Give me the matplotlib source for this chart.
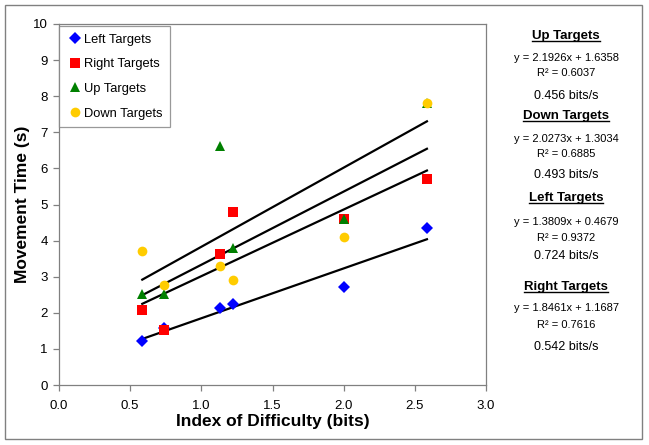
import numpy as np
import matplotlib.pyplot as plt
from matplotlib.patches import Rectangle
from matplotlib.lines import Line2D

plt.rcParams['font.family'] = ['Liberation Sans', 'DejaVu Sans']

# index of difficulty (bits)
ids = [0.585, 0.737, 1.134, 1.22, 2.0, 2.585]

left_mt = [1.23, 1.58, 2.12, 2.25, 2.72, 4.36]
right_mt = [2.07, 1.53, 3.63, 4.79, 4.59, 5.70]
up_mt = [2.52, 2.52, 6.62, 3.80, 4.60, 7.80]
down_mt = [3.71, 2.76, 3.30, 2.91, 4.11, 7.82]

series_names = ['Left Targets', 'Right Targets', 'Up Targets', 'Down Targets']
series_values = [left_mt, right_mt, up_mt, down_mt]
colors = ['#0000FF', '#FF0000', '#008000', '#FFCC00']
markers = ['D', 's', '^', 'o']
msizes = [6, 7, 7.5, 7]

# fitted trend lines (slope, intercept)
slopes = [1.3809, 1.8461, 2.1926, 2.0273]
intercepts = [0.4679, 1.1687, 1.6358, 1.3034]

# right-hand annotation panel
panel_titles = ['Up Targets', 'Down Targets', 'Left Targets', 'Right Targets']
panel_eqs = ['y = 2.1926x + 1.6358', 'y = 2.0273x + 1.3034',
             'y = 1.3809x + 0.4679', 'y = 1.8461x + 1.1687']
panel_r2 = ['0.6037', '0.6885', '0.9372', '0.7616']
panel_tp = ['0.456 bits/s', '0.493 bits/s', '0.724 bits/s', '0.542 bits/s']
panel_ypix = [(36, 58, 73, 96), (116, 139, 154, 175),
              (198, 222, 238, 256), (287, 308, 325, 347)]

W, H = 649, 445
fig = plt.figure(figsize=(W / 100, H / 100), dpi=100)
ax = fig.add_axes([59 / W, 1 - 385 / H, (486 - 59) / W, (385 - 24) / H])

gray = '#808080'
for s in ax.spines.values():
    s.set_color(gray)
    s.set_linewidth(0.9)

xfit = np.array([min(ids), max(ids)])
for m, b in zip(slopes, intercepts):
    ax.plot(xfit, m * xfit + b, color='black', lw=1.6, zorder=2)

for name, vals, c, mk, ms in zip(series_names, series_values, colors, markers, msizes):
    ax.plot(ids, vals, linestyle='none', marker=mk, color=c, markersize=ms,
            markeredgewidth=0, label=name, zorder=3)

ax.set_xlim(0, 3)
ax.set_ylim(0, 10)
ax.set_xticks(np.arange(0, 3.01, 0.5))
ax.set_xticklabels([f'{v:.1f}' for v in np.arange(0, 3.01, 0.5)])
ax.set_yticks(range(0, 11))
ax.tick_params(direction='out', length=4, width=0.9, color=gray, labelsize=9.5, pad=4)
ax.tick_params(axis='x', pad=6.5)
ax.set_xlabel('Index of Difficulty (bits)', fontsize=12.5, fontweight='bold', labelpad=2)
ax.set_ylabel('Movement Time (s)', fontsize=12.5, fontweight='bold', labelpad=2)

leg = ax.legend(loc='upper left', bbox_to_anchor=(0, 0.995), fontsize=9.3,
                frameon=True, fancybox=False, handletextpad=0.1,
                handlelength=1.2, labelspacing=0.98, borderpad=0.6,
                borderaxespad=0)
leg.get_frame().set_edgecolor(gray)
leg.get_frame().set_linewidth(0.9)

cx = 566 / W
titles = []
for title, eq, r2, tp, ys in zip(panel_titles, panel_eqs, panel_r2, panel_tp, panel_ypix):
    t = fig.text(cx, 1 - ys[0] / H, title, ha='center', va='center',
                 fontsize=9.5, fontweight='bold')
    titles.append(t)
    fig.text(cx, 1 - ys[1] / H, eq, ha='center', va='center', fontsize=8)
    fig.text(cx, 1 - ys[2] / H, 'R\u00b2 = ' + r2, ha='center', va='center', fontsize=8)
    fig.text(cx, 1 - ys[3] / H, tp, ha='center', va='center', fontsize=9)

# underline the panel titles
fig.canvas.draw()
inv = fig.transFigure.inverted()
for t in titles:
    bb = t.get_window_extent()
    (x0, y0), (x1, _) = inv.transform([(bb.x0, bb.y0), (bb.x1, bb.y1)])
    fig.add_artist(Line2D([x0, x1], [y0 + 0.002, y0 + 0.002], color='black',
                          lw=1.0, transform=fig.transFigure))

# outer chart border
fig.add_artist(Rectangle((5 / W, 1 - 439 / H), 637 / W, 434 / H, fill=False,
                         edgecolor=gray, lw=1.0, transform=fig.transFigure))

fig.savefig('out.png', dpi=100)
